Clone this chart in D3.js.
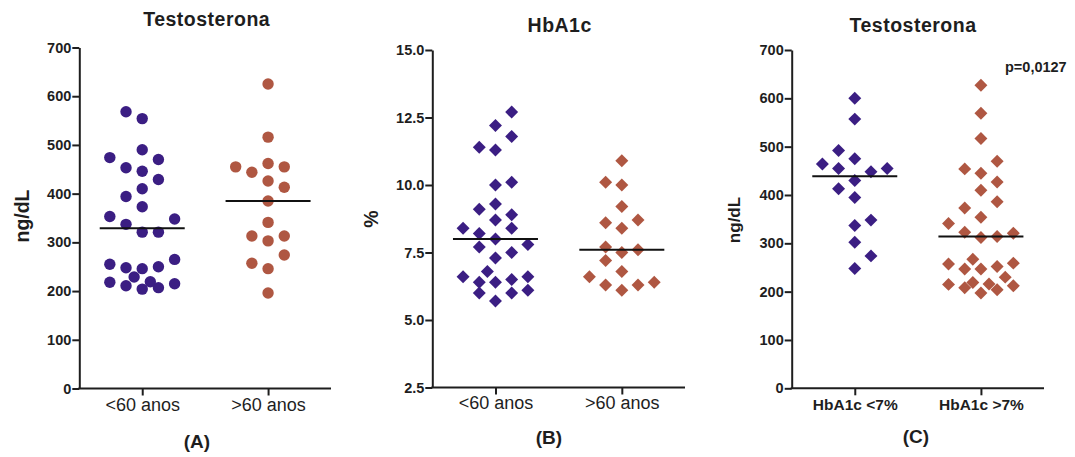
<!DOCTYPE html>
<html>
<head>
<meta charset="utf-8">
<script src="https://cdn.jsdelivr.net/npm/d3@7"></script>
<style>
  html, body { margin: 0; padding: 0; background: #fff; }
  svg { display: block; font-family: "Liberation Sans", Arial, Helvetica, sans-serif; }
</style>
</head>
<body>
<svg id="chart" width="1075" height="457"></svg>
<script>
// ---------------- DATA ----------------
const ageCategories = ["<60 anos", ">60 anos"];
const hbaCategories = ["HbA1c <7%", "HbA1c >7%"];

const testoTicks = [0, 100, 200, 300, 400, 500, 600, 700];
const hbaTicks = [2.5, 5.0, 7.5, 10.0, 12.5, 15.0];

// Panel A: Testosterona by age (ng/dL)
const testoUnder60 = [568, 554, 474, 490, 470, 453, 446, 429, 410, 394, 373, 353, 348, 337, 321, 321,
  255, 248, 246, 250, 265, 229, 218, 211, 219, 204, 207, 215];
const testoUnder60Slot = [-1, 0, -2, 0, 1, -1, 0, 1, 0, -1, 0, -2, 2, -1, 0, 1,
  -2, -1, 0, 1, 2, -0.5, -2, -1, 0.5, 0, 1, 2];
const testoOver60 = [625, 516, 455, 444, 462, 455, 426, 413, 385, 341, 313, 313, 303, 274, 257, 246, 196];
const testoOver60Slot = [0, 0, -2, -1, 0, 1, 0, 1, 0, 0, -1, 1, 0, 1, -1, 0, 0];
const testoAgeMedians = [329, 385];

// Panel B: HbA1c by age (%)
const hbaUnder60 = [12.7, 12.2, 11.8, 11.4, 11.3, 10.0, 10.1, 9.3, 9.1, 8.9, 8.7, 8.4, 8.4, 8.2, 8.0,
  7.7, 7.8, 7.5, 7.3, 6.8, 6.6, 6.6, 6.4, 6.4, 6.5, 6.0, 6.0, 6.1, 5.7];
const hbaUnder60Slot = [1, 0, 1, -1, 0, 0, 1, 0, -1, 1, 0, -2, 1, -1, 0,
  -1, 2, 1, 0, -0.5, -2, 2, -1, 0, 1, -1, 1, 2, 0];
const hbaOver60 = [10.9, 10.1, 10.0, 9.2, 8.6, 8.7, 8.4, 7.7, 7.5, 7.6, 7.2, 6.8, 6.6, 6.3, 6.3, 6.1, 6.4];
const hbaOver60Slot = [0, -1, 0, 0, -1, 1, 0, -1, 0, 1, -1, 0, -2, -1, 1, 0, 2];
const hbaAgeMedians = [8.0, 7.6];

// Panel C: Testosterona by HbA1c group (ng/dL)
const testoHbaLow = [600, 557, 492, 475, 464, 455, 455, 448, 430, 413, 395, 348, 337, 302, 274, 248];
const testoHbaLowSlot = [0, 0, -1, 0, -2, -1, 2, 1, 0, -1, 0, 1, 0, 0, 1, 0];
const testoHbaHigh = [627, 569, 517, 470, 454, 445, 427, 410, 386, 373, 354, 341, 323, 321, 312, 314,
  257, 267, 247, 247, 252, 259, 230, 215, 219, 208, 216, 204, 212, 197];
const testoHbaHighSlot = [0, 0, 0, 1, -1, 0, 1, 0, 1, -1, 0, -2, -1, 2, 0, 1,
  -2, -0.5, -1, 0, 1, 2, 1.5, -2, -0.5, -1, 0.5, 1, 2, 0];
const testoHbaMedians = [439, 314];
const pValueText = "p=0,0127";

const panelTitles = ["Testosterona", "HbA1c", "Testosterona"];
const yLabels = ["ng/dL", "%", "ng/dL"];
const panelLetters = ["(A)", "(B)", "(C)"];

// ---------------- STYLE ----------------
const purple = "#3b1e83";
const brown = "#af5742";
const ink = "#1e1e1e";
const FONT = '"Liberation Sans", Arial, Helvetica, sans-serif';

const svg = d3.select("#chart");

function drawPanel(cfg) {
  const g = svg.append("g");
  const y = d3.scaleLinear().domain(cfg.yDomain).range([cfg.bottom, cfg.top]);
  const x = d3.scalePoint().domain(cfg.categories).range([cfg.left, cfg.right]).padding(0.5);
  const jitter = d3.scaleLinear().domain([-1, 1]).range([-16.2, 16.2]);

  // Y axis
  const yAxis = d3.axisLeft(y).tickValues(cfg.ticks).tickSize(7).tickSizeOuter(0).tickPadding(1)
    .tickFormat(cfg.format);
  const ya = g.append("g").attr("transform", `translate(${cfg.left},0)`).call(yAxis);
  ya.select(".domain").attr("stroke", ink).attr("stroke-width", 2);
  ya.selectAll(".tick line").attr("stroke", ink).attr("stroke-width", 2);
  ya.selectAll(".tick text").attr("fill", ink).attr("font-family", FONT)
    .attr("font-size", "14.5px").attr("font-weight", "bold");

  // X axis
  const xAxis = d3.axisBottom(x).tickSize(7).tickSizeOuter(0).tickPadding(cfg.xPad);
  const xa = g.append("g").attr("transform", `translate(0,${cfg.bottom})`).call(xAxis);
  xa.select(".domain").attr("stroke", ink).attr("stroke-width", 2)
    .attr("d", `M${cfg.left - 1},0H${cfg.right}`);
  xa.selectAll(".tick line").attr("stroke", ink).attr("stroke-width", 2);
  xa.selectAll(".tick text").attr("fill", ink).attr("font-family", FONT)
    .attr("font-size", cfg.xFont).attr("font-weight", cfg.xWeight);

  // Points
  const symbolGen = cfg.shape === "circle"
    ? d3.symbol().type(d3.symbolCircle).size(Math.PI * 5.7 * 5.7)
    : d3.symbol().type(d3.symbolSquare).size(84);
  cfg.groups.forEach((grp, gi) => {
    const pts = grp.values.map((v, i) => ({ v, s: grp.slots[i] }));
    g.append("g").selectAll("path").data(pts).join("path")
      .attr("d", symbolGen())
      .attr("fill", grp.color)
      .attr("transform", d => `translate(${x(cfg.categories[gi]) + jitter(d.s)},${y(d.v)})` +
        (cfg.shape === "circle" ? "" : " rotate(45)"));
  });

  // Median lines
  g.append("g").selectAll("line").data(cfg.medians).join("line")
    .attr("x1", (d, i) => x(cfg.categories[i]) - 42.5)
    .attr("x2", (d, i) => x(cfg.categories[i]) + 42.5)
    .attr("y1", d => y(d)).attr("y2", d => y(d))
    .attr("stroke", "#111").attr("stroke-width", 2);

  // Title
  g.append("text").attr("x", cfg.titleX).attr("y", cfg.titleY)
    .attr("text-anchor", "middle").attr("font-family", FONT).attr("font-weight", "bold")
    .attr("font-size", "19.5px").attr("letter-spacing", "0.5px").attr("fill", ink)
    .text(cfg.title);

  // Y label
  g.append("text").attr("transform", `translate(${cfg.yLabelX},${cfg.yLabelY}) rotate(-90)`)
    .attr("text-anchor", "middle").attr("font-family", FONT).attr("font-weight", "bold")
    .attr("font-size", cfg.yLabelFont).attr("fill", ink).text(cfg.yLabel);

  // Panel letter
  g.append("text").attr("x", cfg.letterX).attr("y", cfg.letterY)
    .attr("text-anchor", "middle").attr("font-family", FONT).attr("font-weight", "bold")
    .attr("font-size", "19px").attr("fill", ink).text(cfg.letter);

  return { g, x, y };
}

drawPanel({
  left: 79.3, right: 331, top: 47.5, bottom: 388.5,
  yDomain: [0, 700], ticks: testoTicks, format: d3.format("d"),
  categories: ageCategories, xPad: 3, xFont: "18px", xWeight: "normal",
  shape: "circle",
  groups: [
    { values: testoUnder60, slots: testoUnder60Slot, color: purple },
    { values: testoOver60, slots: testoOver60Slot, color: brown }
  ],
  medians: testoAgeMedians,
  title: panelTitles[0], titleX: 206.7, titleY: 26,
  yLabel: yLabels[0], yLabelX: 29, yLabelY: 216, yLabelFont: "19.5px",
  letter: panelLetters[0], letterX: 197, letterY: 448
});

drawPanel({
  left: 432.3, right: 685, top: 50, bottom: 387.5,
  yDomain: [2.5, 15], ticks: hbaTicks, format: d3.format(".1f"),
  categories: ageCategories, xPad: 2, xFont: "18px", xWeight: "normal",
  shape: "diamond",
  groups: [
    { values: hbaUnder60, slots: hbaUnder60Slot, color: purple },
    { values: hbaOver60, slots: hbaOver60Slot, color: brown }
  ],
  medians: hbaAgeMedians,
  title: panelTitles[1], titleX: 559.7, titleY: 31.7,
  yLabel: yLabels[1], yLabelX: 378, yLabelY: 219, yLabelFont: "19.5px",
  letter: panelLetters[1], letterX: 549, letterY: 444
});

const pc = drawPanel({
  left: 791.7, right: 1044, top: 50, bottom: 388.3,
  yDomain: [0, 700], ticks: testoTicks, format: d3.format("d"),
  categories: hbaCategories, xPad: 4, xFont: "15.5px", xWeight: "bold",
  shape: "diamond",
  groups: [
    { values: testoHbaLow, slots: testoHbaLowSlot, color: purple },
    { values: testoHbaHigh, slots: testoHbaHighSlot, color: brown }
  ],
  medians: testoHbaMedians,
  title: panelTitles[2], titleX: 913, titleY: 31.7,
  yLabel: yLabels[2], yLabelX: 740, yLabelY: 220, yLabelFont: "17px",
  letter: panelLetters[2], letterX: 916, letterY: 443
});

pc.g.append("text").attr("x", 1005).attr("y", 72.3)
  .attr("font-family", FONT).attr("font-weight", "bold").attr("font-size", "14.5px")
  .attr("fill", ink).text(pValueText);
</script>
</body>
</html>
